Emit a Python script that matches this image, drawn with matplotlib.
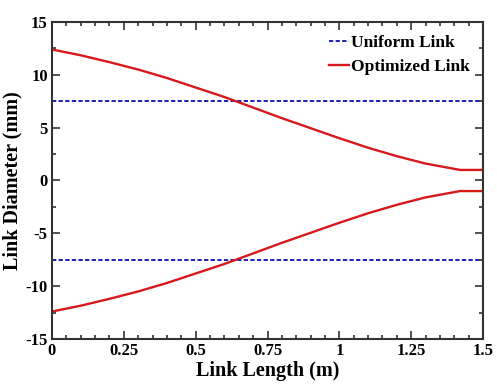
import matplotlib
matplotlib.use("Agg")
import matplotlib.pyplot as plt
from matplotlib.ticker import MultipleLocator

# Link profile along its length (m) and half-diameter (mm)
length_m = [0, 0.1, 0.2, 0.3, 0.4, 0.5, 0.6, 0.7, 0.8, 0.9, 1.0, 1.1, 1.2, 1.3, 1.42, 1.5]
optimized_upper = [12.4, 11.85, 11.2, 10.5, 9.7, 8.8, 7.9, 6.9, 5.9, 4.95, 4.0, 3.1, 2.3, 1.6, 1.0, 1.0]
optimized_lower = [-v for v in optimized_upper]
uniform_radius = 7.5

plt.rcParams['font.family'] = ['Liberation Serif', 'DejaVu Serif']
plt.rcParams['font.weight'] = 'bold'
plt.rcParams['axes.unicode_minus'] = False

fig = plt.figure(figsize=(4.97, 3.90), dpi=100)
ax = fig.add_axes([0.1046, 0.1308, 0.8674, 0.8128])

red = '#d7191c'
blue = '#1f1fb4'
ax.axhline(uniform_radius, color=blue, lw=1.4, ls=(0, (2.2, 1.2)), label='Uniform Link')
ax.axhline(-uniform_radius, color=blue, lw=1.4, ls=(0, (2.2, 1.2)))
ax.plot(length_m, optimized_upper, color=red, lw=1.7, label='Optimized Link')
ax.plot(length_m, optimized_lower, color=red, lw=1.7)

ax.set_xlim(0, 1.5)
ax.set_ylim(-15, 15)
ax.xaxis.set_minor_locator(MultipleLocator(0.05))
ax.yaxis.set_major_locator(MultipleLocator(5))
ax.yaxis.set_minor_locator(MultipleLocator(2.5))
ax.set_xticks([0, 0.25, 0.5, 0.75, 1, 1.25, 1.5])
ax.set_xticklabels(['0', '0.25', '0.5', '0.75', '1', '1.25', '1.5'])
ax.tick_params(which='both', direction='in', top=True, right=True, width=1.2, colors='#333333',
               labelcolor='black', labelsize=12, pad=3)
ax.tick_params(which='major', length=6)
ax.tick_params(which='minor', length=3)
for s in ax.spines.values():
    s.set_linewidth(1.5)
    s.set_color('#333333')

ax.set_xlabel('Link Length (m)', fontsize=14.5, fontweight='bold', labelpad=1)
ax.set_ylabel('Link Diameter (mm)', fontsize=14.5, fontweight='bold', labelpad=2)

leg = ax.legend(loc='upper right', frameon=False, fontsize=12.5, handlelength=1.2,
                handletextpad=0.1, borderaxespad=0.35, labelspacing=0.45)
for t in leg.get_texts():
    t.set_fontweight('bold')

fig.savefig('out.png', dpi=100)
